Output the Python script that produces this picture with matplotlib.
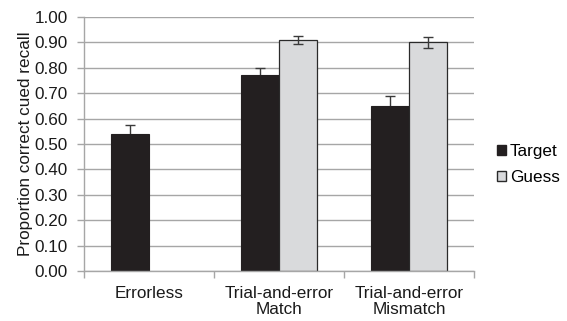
import matplotlib
matplotlib.use("Agg")
import matplotlib.pyplot as plt
import numpy as np
from matplotlib.patches import Patch

categories = ["Errorless", "Trial-and-error\nMatch", "Trial-and-error\nMismatch"]
target = [0.54, 0.77, 0.65]
target_err = [0.035, 0.03, 0.04]
guess = [np.nan, 0.91, 0.90]
guess_err = [np.nan, 0.017, 0.022]
yticks = [0.0, 0.1, 0.2, 0.3, 0.4, 0.5, 0.6, 0.7, 0.8, 0.9, 1.0]

plt.rcParams['font.family'] = ['Liberation Sans', 'DejaVu Sans']
FS = 12.3

fig = plt.figure(figsize=(5.67, 3.21), dpi=100)
ax = fig.add_axes([84/567, 1-271/321, 390/567, 254/321])

x = np.arange(len(categories))
w = 0.292
grid_c = '#a6a6a6'
ax.set_axisbelow(True)
ax.yaxis.grid(True, color=grid_c, linewidth=1.0)

ax.bar(x - w/2, target, w, color='#231f20', edgecolor='#231f20', linewidth=0.8,
       label='Target', zorder=2)
ax.bar(x + w/2, guess, w, color='#d9dadc', edgecolor='#2a2a2a', linewidth=0.9,
       label='Guess', zorder=2)
ax.errorbar(x - w/2, target, yerr=target_err, fmt='none', ecolor='#3a3a3a',
            elinewidth=1.0, capsize=3.5, capthick=1.0, zorder=1.5)
ax.errorbar(x + w/2, guess, yerr=guess_err, fmt='none', ecolor='#3a3a3a',
            elinewidth=1.0, capsize=3.5, capthick=1.0, zorder=3)

ax.set_xlim(-0.5, len(categories) - 0.5)
ax.set_ylim(0, 1.0)
ax.set_yticks(yticks)
ax.set_yticklabels([f"{v:.2f}" for v in yticks], fontsize=FS, color='#1a1a1a')
ax.set_xticks(x)
ax.set_xticklabels(categories, fontsize=FS, color='#1a1a1a', linespacing=1.05)
ax.tick_params(axis='x', length=0, pad=11)
ax.set_xticks(np.arange(len(categories) + 1) - 0.5, minor=True)
ax.tick_params(axis='x', which='minor', length=5, color=grid_c, width=1)
ax.tick_params(axis='y', length=5, color=grid_c, width=1, pad=6.5)

for s in ['top', 'right']:
    ax.spines[s].set_visible(False)
for s in ['left', 'bottom']:
    ax.spines[s].set_color(grid_c)
    ax.spines[s].set_linewidth(1.0)

ax.set_ylabel("Proportion correct cued recall", fontsize=FS, color='#1a1a1a')
ax.yaxis.set_label_coords(-(84-33)/390, 0.5)

handles = [Patch(facecolor='#231f20', edgecolor='#231f20', label='Target'),
           Patch(facecolor='#d9dadc', edgecolor='#2a2a2a', label='Guess')]
fig.legend(handles=handles, loc='center left', bbox_to_anchor=(497/567, 1-164.5/321),
           frameon=False, fontsize=FS, handlelength=0.55, handleheight=0.55,
           handletextpad=0.2, labelspacing=0.65, borderpad=0, borderaxespad=0)

fig.savefig("out.png", dpi=100)
